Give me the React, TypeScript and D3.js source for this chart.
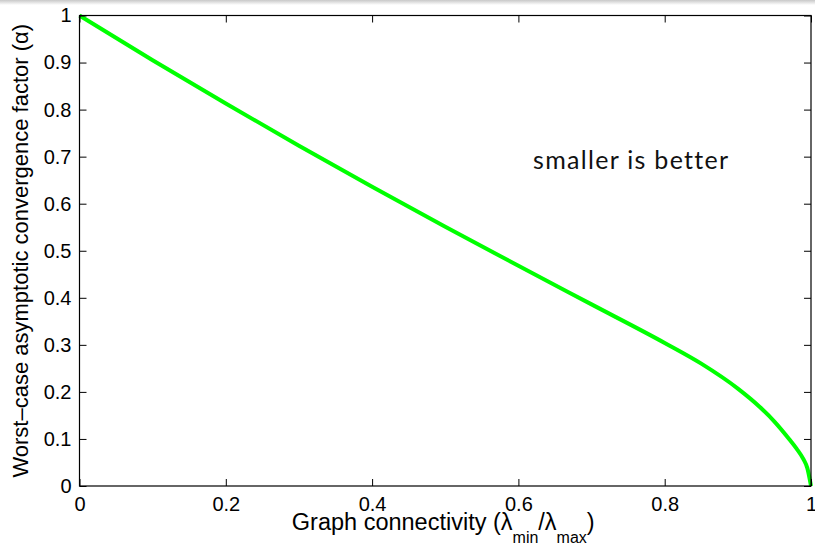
import React, { useEffect, useRef } from "react";
import * as d3 from "d3";

const width = 815;
const height = 546;
const margin = { top: 15.5, right: 4, bottom: 60, left: 79.5 };

// values
const connectivity = [0, 0.1, 0.2, 0.3, 0.4, 0.5, 0.6, 0.7, 0.8, 0.85, 0.9, 0.93, 0.95, 0.97, 0.98, 0.99, 0.995, 1];
const alpha = [1, 0.905, 0.813, 0.723, 0.636, 0.551, 0.468, 0.386, 0.304, 0.26, 0.207, 0.168, 0.137, 0.1, 0.08, 0.056, 0.038, 0];

const xTicks = [0, 0.2, 0.4, 0.6, 0.8, 1];
const yTicks = [0, 0.1, 0.2, 0.3, 0.4, 0.5, 0.6, 0.7, 0.8, 0.9, 1];

const note = { x: 0.62, y: 0.674, text: "smaller is better" };

const tickFont = "'Liberation Sans', Arial, Helvetica, sans-serif";

export default function App() {
  const xAxisRef = useRef<SVGGElement>(null);
  const yAxisRef = useRef<SVGGElement>(null);
  const topRef = useRef<SVGGElement>(null);
  const rightRef = useRef<SVGGElement>(null);

  const x = d3.scaleLinear().domain([0, 1]).range([margin.left, width - margin.right]);
  const y = d3.scaleLinear().domain([0, 1]).range([height - margin.bottom, margin.top]);

  const points = connectivity.map((c, i) => [c, alpha[i]] as [number, number]);
  const line = d3
    .line<[number, number]>()
    .x(d => x(d[0]))
    .y(d => y(d[1]))
    .curve(d3.curveMonotoneX);

  useEffect(() => {
    const fmt = d3.format("~g");
    const style = (g: d3.Selection<SVGGElement, unknown, null, undefined>) => {
      g.select(".domain").remove();
      g.selectAll("line").attr("stroke", "#000").attr("stroke-width", 1);
      g.selectAll("text")
        .attr("fill", "#000")
        .style("font-family", tickFont)
        .style("font-size", "20px");
    };
    d3.select(xAxisRef.current!)
      .call(d3.axisBottom(x).tickValues(xTicks).tickFormat(d => fmt(d as number)).tickSizeInner(-7).tickSizeOuter(0).tickPadding(11))
      .call(style);
    d3.select(yAxisRef.current!)
      .call(d3.axisLeft(y).tickValues(yTicks).tickFormat(d => fmt(d as number)).tickSizeInner(-7).tickSizeOuter(0).tickPadding(8))
      .call(style);
    d3.select(topRef.current!)
      .call(d3.axisTop(x).tickValues(xTicks).tickFormat(() => "").tickSizeInner(-7).tickSizeOuter(0))
      .call(style);
    d3.select(rightRef.current!)
      .call(d3.axisRight(y).tickValues(yTicks).tickFormat(() => "").tickSizeInner(-7).tickSizeOuter(0))
      .call(style);
  });

  const [x0, x1] = x.range();
  const [y0, y1] = y.range();

  return (
    <svg width={width} height={height} style={{ position: "absolute", left: 0, top: 0, background: "#fff" }}>
      <defs>
        <linearGradient id="topShade" x1="0" y1="0" x2="0" y2="1">
          <stop offset="0" stopColor="#c8c8c8" />
          <stop offset="1" stopColor="#ffffff" />
        </linearGradient>
      </defs>
      <rect x={0} y={0} width={width} height={5} fill="url(#topShade)" />

      <path d={line(points) ?? ""} fill="none" stroke="#00ff00" strokeWidth={4} strokeLinejoin="round" />

      <rect x={x0} y={y1} width={x1 - x0} height={y0 - y1} fill="none" stroke="#000" strokeWidth={1.2} />
      <g ref={xAxisRef} transform={`translate(0, ${y0})`} />
      <g ref={yAxisRef} transform={`translate(${x0}, 0)`} />
      <g ref={topRef} transform={`translate(0, ${y1})`} />
      <g ref={rightRef} transform={`translate(${x1}, 0)`} />

      <text
        x={x(note.x)}
        y={y(note.y)}
        fontFamily="Lato, 'Open Sans', sans-serif"
        fontSize={25}
        letterSpacing={1.3}
        fill="#111"
      >
        {note.text}
      </text>

      <text
        x={(x0 + x1) / 2 - 2}
        y={530}
        textAnchor="middle"
        fontFamily={tickFont}
        fontSize={23.5}
        fill="#000"
      >
        Graph connectivity (λ
        <tspan fontSize={16} dy={13}>min</tspan>
        <tspan dy={-13}>/λ</tspan>
        <tspan fontSize={16} dy={13}>max</tspan>
        <tspan dy={-13}>)</tspan>
      </text>

      <text
        transform={`translate(27.5, ${(y0 + y1) / 2}) rotate(-90)`}
        textAnchor="middle"
        fontFamily={tickFont}
        fontSize={22}
        fill="#000"
      >
        Worst–case asymptotic convergence factor (α)
      </text>
    </svg>
  );
}
